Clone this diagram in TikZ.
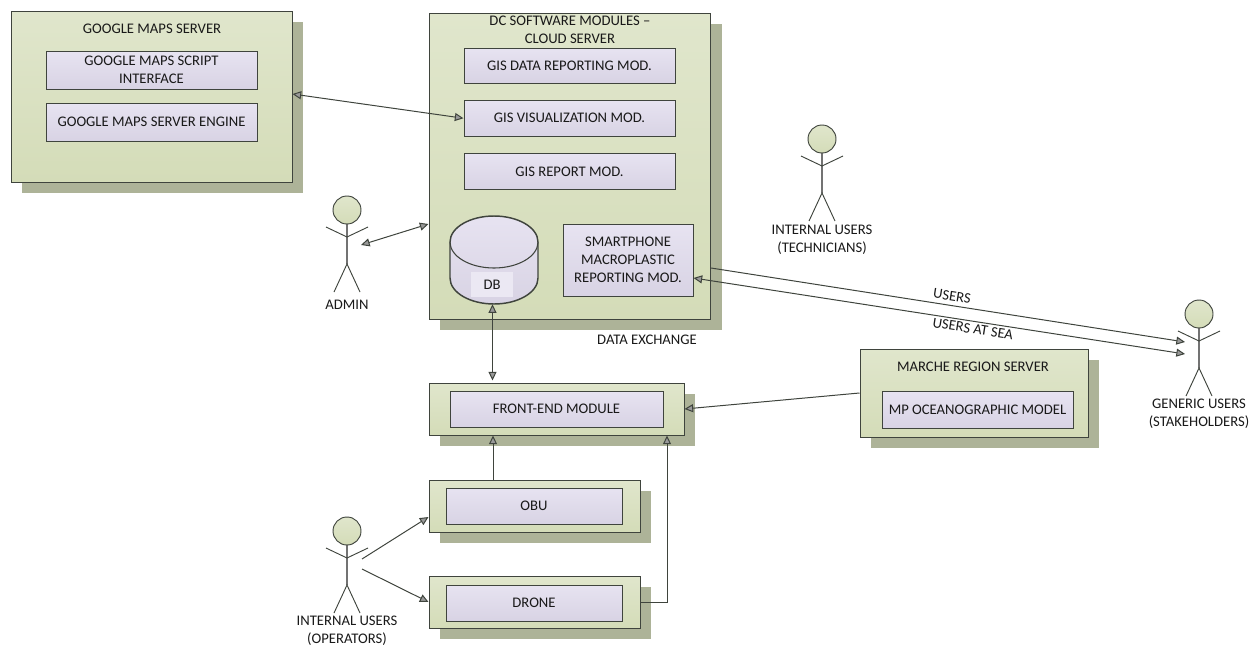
\documentclass[tikz,border=0pt]{standalone}
\usepackage{fontspec}
\setmainfont{Carlito}
\usetikzlibrary{calc,shadows,arrows.meta}
\definecolor{oTop}{HTML}{E0E6CC}
\definecolor{oBot}{HTML}{D4DCB8}
\definecolor{shad}{HTML}{ADB398}
\definecolor{iTop}{HTML}{E7E3F1}
\definecolor{iBot}{HTML}{D8D3E4}
\definecolor{edge}{HTML}{3F443D}
\definecolor{lab}{HTML}{EBE8F3}
\tikzset{
  x=0.75pt,y=-0.75pt,
  txt/.style={font=\fontsize{11pt}{13.5pt}\selectfont,align=center,text=black!90,inner sep=0pt},
  outerbox/.style={rectangle,draw=edge,line width=0.75pt,top color=oTop,bottom color=oBot,
    drop shadow={shadow xshift=8.25pt,shadow yshift=-8.25pt,fill=shad,opacity=1}},
  innerbox/.style={rectangle,draw=edge,line width=0.75pt,top color=iTop,bottom color=iBot,txt},
  innershad/.style={innerbox,drop shadow={shadow xshift=1pt,shadow yshift=-1pt,fill=black!45,opacity=1}},
  limb/.style={draw=edge,line width=0.7pt},
  spine/.style={draw=black!55,line width=1pt},
  head/.style={circle,draw=edge,line width=0.7pt,minimum size=21pt,inner sep=0pt,top color=oTop,bottom color=oBot},
  conn/.style={draw=edge,line width=0.75pt},
  tip/.style={-{Triangle[length=6.5pt,width=6pt,fill=black!40]}},
  tips/.style={{Triangle[length=6.5pt,width=6pt,fill=black!40]}-{Triangle[length=6.5pt,width=6pt,fill=black!40]}},
}
\newcommand{\pxbox}[7]{%
  \pgfmathsetlengthmacro{\bw}{(#5-#3)*0.75pt}%
  \pgfmathsetlengthmacro{\bh}{(#6-#4)*0.75pt}%
  \node[#2,minimum width=\bw,minimum height=\bh,inner sep=0pt] (#1) at ({(#3+#5)/2},{(#4+#6)/2}) {#7};}
\newcommand{\actor}[2]{% name, cx/cy
  \foreach \cx/\cy in {#2}{%
    \draw[spine] (\cx,\cy+14) -- (\cx,\cy+54);
    \draw[limb] (\cx-21,\cy+17) -- (\cx,\cy+27) -- (\cx+21,\cy+17);
    \draw[limb] (\cx-13,\cy+82) -- (\cx,\cy+54) -- (\cx+13,\cy+82);
    \node[head] (#1) at (\cx,\cy) {};
  }}
\begin{document}
\begin{tikzpicture}
\useasboundingbox (0,0) rectangle (1255,646);

% Google Maps server
\pxbox{g}{outerbox}{11}{11}{292}{182}{}
\node[txt] (gt) at (152,29) {GOOGLE MAPS SERVER};
\pxbox{gs}{innerbox}{46}{51}{257}{89}{GOOGLE MAPS SCRIPT\\INTERFACE}
\pxbox{ge}{innerbox}{46}{103}{257}{141}{GOOGLE MAPS SERVER ENGINE}

% DC
\pxbox{dc}{outerbox}{429}{13}{710.5}{319}{}
\node[txt] (dct) at (570,30) {DC SOFTWARE MODULES –\\CLOUD SERVER};
\pxbox{m1}{innerbox}{464}{48}{675}{83}{GIS DATA REPORTING MOD.}
\pxbox{m2}{innerbox}{464}{100}{675}{136.5}{GIS VISUALIZATION MOD.}
\pxbox{m3}{innerbox}{464}{153.5}{675}{189.5}{GIS REPORT MOD.}
\pxbox{sp}{innerbox}{563}{224}{693}{296}{SMARTPHONE\\MACROPLASTIC\\REPORTING MOD.}

% DB
\draw[draw=edge,line width=1.1pt,top color=iTop,bottom color=iBot]
  (450,242) .. controls (450,227.5) and (470,216) .. (494,216)
  .. controls (518,216) and (538,227.5) .. (538,242)
  -- (538,278) .. controls (538,292.5) and (518,304) .. (494,304)
  .. controls (470,304) and (450,292.5) .. (450,278) -- cycle;
\draw[draw=edge,line width=0.8pt]
  (450,242) .. controls (450,256.5) and (470,268) .. (494,268)
  .. controls (518,268) and (538,256.5) .. (538,242);
\pxbox{db}{fill=lab,txt}{471}{272}{513}{297}{DB}
\node[draw=none,minimum width=66pt,minimum height=66pt,inner sep=0pt] (dbs) at (492.5,260) {};

% Front end and below
\pxbox{fe}{outerbox}{429}{383}{684}{435}{}
\pxbox{fem}{innerbox}{450}{391}{663}{427}{FRONT-END MODULE}
\pxbox{ob}{outerbox}{429}{480}{640}{532}{}
\pxbox{obm}{innershad}{446}{488}{622}{524}{OBU}
\pxbox{dr}{outerbox}{429}{576}{640}{628}{}
\pxbox{drm}{innershad}{446}{585}{622}{621}{DRONE}

% Marche
\pxbox{ma}{outerbox}{860}{349}{1088}{437}{}
\node[txt] (mat) at (973,367) {MARCHE REGION SERVER};
\pxbox{mam}{innershad}{882}{391}{1073}{428}{MP OCEANOGRAPHIC MODEL}

% Actors
\actor{admin}{347/210}
\actor{tech}{822/139}
\actor{gen}{1199/314}
\actor{oper}{347/531}
\node[txt] (adminl) at (347,305) {ADMIN};
\node[txt] (techl) at (822,240) {INTERNAL USERS\\(TECHNICIANS)};
\node[txt] (genl) at (1199,414) {GENERIC USERS\\(STAKEHOLDERS)};
\node[txt] (operl) at (347,631) {INTERNAL USERS\\(OPERATORS)};

% Labels
\node[txt] (dx) at (647,340) {DATA EXCHANGE};
\node[txt,rotate=-9] (lu) at (952,296) {USERS};
\node[txt,rotate=-9] (ls) at (973,329) {USERS AT SEA};

% Connectors
\draw[conn,tips] ($(g.east)+(0,-2.5)$) -- (m2.west);
\draw[conn,tips] ($(admin)+(14,35)$) -- ($(dc.west)+(0,58)$);
\draw[conn,tips] (dbs.south) -- ($(fe.north)+(-64,-2)$);
\draw[conn,tips] ($(sp.east)+(0,18)$) -- ($(gen)+(-14,40)$);
\draw[conn,tip] ($(dc.east)+(0,102)$) -- ($(gen)+(-14,28)$);
\draw[conn,tip] ($(ma.west)+(0,0)$) -- (fe.east);
\draw[conn,tip] ($(ob.north)+(-41.5,0)$) -- ($(fe.south)+(-63.5,0)$);
\draw[conn,tip] (dr.east) -| ($(fe.south)+(110.5,0)$);
\draw[conn,tip] ($(oper)+(15,28)$) -- ($(ob.west)+(0,11)$);
\draw[conn,tip] ($(oper)+(15,38)$) -- (dr.west);
\end{tikzpicture}
\end{document}
